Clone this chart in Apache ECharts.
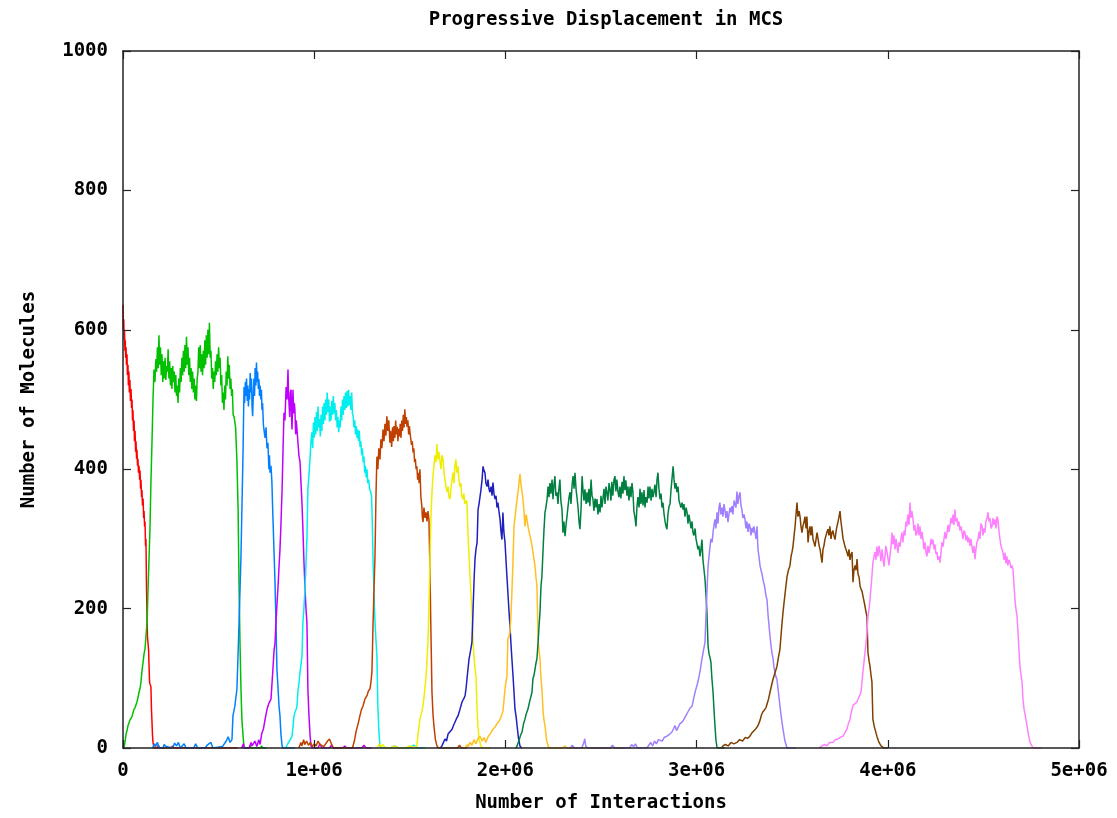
<!DOCTYPE html>
<html>
<head>
<meta charset="utf-8">
<title>Progressive Displacement in MCS</title>
<script src="https://cdn.jsdelivr.net/npm/echarts@6/dist/echarts.min.js"></script>
<style>
  html, body { margin: 0; padding: 0; background: #fff; }
  #chart { width: 1117px; height: 818px; }
</style>
</head>
<body>
<div id="chart"></div>
<script>
// x values are in millions of interactions, y is number of molecules
const xTicks = [0, 1, 2, 3, 4, 5];
const yTicks = [0, 200, 400, 600, 800, 1000];

const run1 = [[0,636],[0.002,600],[0.004,615],[0.006,585],[0.008,598],[0.010,570],[0.012,585],[0.014,560],[0.016,575],[0.018,550],[0.021,565],[0.023,535],[0.026,550],[0.028,520],[0.031,540],[0.033,510],[0.036,528],[0.039,498],[0.042,515],[0.045,488],[0.047,500],[0.050,470],[0.052,485],[0.055,455],[0.058,470],[0.060,440],[0.063,455],[0.066,425],[0.068,440],[0.071,415],[0.073,428],[0.076,405],[0.078,415],[0.081,395],[0.084,405],[0.087,385],[0.089,398],[0.092,372],[0.094,385],[0.097,360],[0.099,370],[0.102,348],[0.105,358],[0.108,330],[0.110,340],[0.113,318],[0.115,325],[0.118,290],[0.120,300],[0.123,230],[0.126,185],[0.128,160],[0.131,150],[0.134,140],[0.136,120],[0.139,95],[0.141,92],[0.144,90],[0.146,88],[0.149,55],[0.152,35],[0.154,20],[0.157,8],[0.162,0],[0.18,0],[0.185,4],[0.19,0],[0.25,0],[0.26,3],[0.265,0],[0.34,0],[0.35,2],[0.36,0],[0.6,0]];

const run2 = [[0.005,0],[0.010,8],[0.016,20],[0.021,25],[0.026,32],[0.031,30],[0.036,40],[0.042,38],[0.047,45],[0.052,46],[0.057,55],[0.063,58],[0.068,62],[0.073,66],[0.078,72],[0.084,80],[0.089,85],[0.094,95],[0.099,110],[0.105,123],[0.110,135],[0.115,142],[0.120,160],[0.126,180],[0.131,228],[0.136,270],[0.141,314],[0.146,380],[0.152,443],[0.157,500],[0.162,543],
  [0.167,525],[0.172,558],[0.176,540],[0.180,575],[0.184,545],[0.188,592],[0.192,550],[0.196,575],[0.200,535],[0.204,565],[0.208,525],[0.212,555],[0.216,530],[0.220,560],[0.224,528],[0.228,548],[0.232,540],[0.236,572],[0.240,530],[0.244,555],[0.248,520],[0.252,545],[0.256,515],[0.260,548],[0.264,525],[0.268,540],[0.272,510],[0.276,535],[0.280,505],[0.284,520],[0.288,495],[0.292,530],[0.296,510],[0.300,545],[0.304,525],[0.308,560],[0.312,535],[0.316,570],[0.320,540],[0.324,578],[0.328,545],[0.332,590],[0.336,550],[0.340,575],[0.344,535],[0.348,560],[0.352,525],[0.356,545],[0.360,515],[0.364,540],[0.368,510],[0.372,530],[0.376,500],[0.380,520],[0.384,498],[0.388,530],[0.392,540],[0.396,575],[0.400,545],[0.404,578],[0.408,540],[0.412,565],[0.416,535],[0.420,570],[0.424,545],[0.428,585],[0.432,550],[0.436,592],[0.440,560],[0.444,600],[0.448,565],[0.452,610],[0.456,560],[0.460,570],[0.464,530],[0.468,545],[0.472,515],[0.476,540],[0.480,525],[0.484,555],[0.488,535],[0.492,565],[0.496,540],[0.500,575],[0.504,545],[0.508,560],[0.512,520],[0.516,535],[0.520,495],[0.524,510],[0.528,485],[0.532,520],[0.536,500],[0.540,540],[0.544,520],[0.548,562],[0.552,530],[0.556,550],[0.560,515],[0.564,530],[0.568,505],[0.572,515],[0.576,478],
  [0.581,475],[0.589,460],[0.596,410],[0.602,342],[0.607,232],[0.612,150],[0.617,85],[0.622,40],[0.628,17],[0.633,0],[0.66,0],[0.665,4],[0.67,0],[0.72,0],[0.725,3],[0.73,0],[0.75,0]];

const run3 = [[0.155,0],[0.165,6],[0.17,2],[0.18,8],[0.19,0],[0.21,0],[0.215,5],[0.225,2],[0.235,0],[0.26,0],[0.27,7],[0.28,3],[0.29,8],[0.30,0],[0.32,6],[0.33,0],[0.37,0],[0.38,6],[0.39,0],[0.43,0],[0.44,4],[0.46,8],[0.47,0],[0.52,2],[0.54,10],[0.55,16],[0.56,8],[0.57,12],[0.575,46],[0.585,60],[0.596,85],[0.607,180],[0.617,275],[0.628,428],
  [0.633,518],[0.636,495],[0.640,525],[0.643,505],[0.646,530],[0.650,498],[0.653,520],[0.656,490],[0.659,515],[0.662,500],[0.665,538],[0.669,510],[0.672,530],[0.675,490],[0.678,476],[0.682,510],[0.685,530],[0.688,505],[0.691,545],[0.695,520],[0.698,553],[0.701,525],[0.704,540],[0.708,515],[0.711,529],[0.714,505],[0.717,520],[0.721,500],[0.724,514],[0.727,485],[0.730,495],[0.734,465],[0.737,457],
  [0.743,445],[0.748,460],[0.753,430],[0.758,438],[0.763,400],[0.766,420],[0.769,395],[0.774,405],[0.779,380],[0.782,350],[0.785,324],[0.790,280],[0.795,238],[0.800,180],[0.805,113],[0.810,90],[0.816,60],[0.821,46],[0.826,20],[0.832,3],[0.837,0],[0.9,0]];

const run4 = [[0.62,0],[0.63,6],[0.635,0],[0.66,0],[0.67,8],[0.675,3],[0.69,10],[0.70,2],[0.71,12],[0.717,5],[0.725,20],[0.735,28],[0.743,41],[0.748,48],[0.753,55],[0.758,60],[0.763,64],[0.768,62],[0.774,70],[0.779,70],[0.785,117],[0.790,140],[0.795,150],[0.800,180],[0.805,205],[0.811,232],[0.816,260],[0.821,285],[0.826,320],[0.832,371],[0.837,428],[0.842,481],[0.847,470],[0.853,518],[0.858,500],[0.863,543],[0.866,505],[0.868,496],[0.872,475],[0.875,510],[0.879,514],[0.882,470],[0.884,457],[0.887,495],[0.889,514],[0.893,480],[0.896,495],[0.899,486],[0.903,450],[0.906,470],[0.910,457],[0.915,438],[0.920,420],[0.926,410],[0.931,380],[0.936,352],[0.941,314],[0.946,270],[0.952,228],[0.957,200],[0.962,180],[0.967,85],[0.972,50],[0.978,20],[0.983,3],[0.99,0],[1.02,0],[1.03,6],[1.04,0],[1.08,0],[1.09,4],[1.10,0],[1.15,0],[1.16,3],[1.17,0],[1.25,0],[1.26,4],[1.27,0],[1.30,0]];

const run5 = [[0.85,0],[0.858,2],[0.866,8],[0.873,10],[0.879,14],[0.884,17],[0.889,30],[0.894,45],[0.900,52],[0.905,55],[0.910,60],[0.915,82],[0.921,95],[0.926,109],[0.931,120],[0.936,132],[0.941,180],[0.946,200],[0.952,228],[0.957,265],[0.962,300],[0.967,371],[0.972,390],[0.978,414],[0.983,440],[0.988,453],
  [0.992,430],[0.996,467],[1.000,445],[1.004,475],[1.008,450],[1.012,482],[1.016,455],[1.020,490],[1.024,460],[1.028,472],[1.032,447],[1.036,478],[1.040,455],[1.044,490],[1.048,465],[1.052,495],[1.056,470],[1.060,500],[1.064,478],[1.068,510],[1.072,482],[1.076,500],[1.080,468],[1.084,490],[1.088,470],[1.092,498],[1.096,478],[1.100,505],[1.104,480],[1.108,495],[1.112,470],[1.116,485],[1.120,460],[1.124,475],[1.128,453],[1.132,470],[1.136,460],[1.140,490],[1.144,470],[1.148,500],[1.152,478],[1.156,505],[1.160,485],[1.164,510],[1.168,488],[1.172,512],[1.176,490],[1.180,514],[1.184,492],[1.188,505],[1.192,485],[1.196,510],[1.200,480],[1.204,476],[1.208,460],[1.212,470],[1.216,450],[1.220,462],[1.224,445],[1.228,457],[1.232,440],[1.236,455],[1.240,432],[1.244,440],[1.248,420],[1.252,430],[1.256,410],[1.260,418],[1.264,395],[1.268,405],[1.272,388],[1.276,400],[1.280,380],[1.285,385],[1.290,371],[1.295,368],[1.300,361],
  [1.304,320],[1.308,266],[1.313,220],[1.318,180],[1.323,155],[1.328,132],[1.333,60],[1.338,25],[1.344,3],[1.35,0],[1.40,0],[1.42,3],[1.44,0],[1.50,0],[1.52,4],[1.54,0],[1.58,0]];

const run6 = [[0.92,0],[0.93,8],[0.935,3],[0.945,12],[0.95,5],[0.96,10],[0.97,4],[0.98,8],[0.99,2],[1.00,6],[1.01,3],[1.02,10],[1.03,5],[1.04,7],[1.05,2],[1.06,4],[1.07,10],[1.08,13],[1.09,6],[1.10,0],[1.20,0],[1.21,10],[1.22,25],[1.23,35],[1.239,46],[1.247,55],[1.255,60],[1.265,70],[1.276,75],[1.284,82],[1.292,85],[1.297,95],[1.302,109],[1.308,180],[1.313,230],[1.318,275],[1.323,361],[1.328,418],
  [1.333,400],[1.338,430],[1.344,414],[1.349,443],[1.354,430],[1.360,457],[1.365,440],[1.370,465],[1.375,448],[1.380,476],[1.385,455],[1.390,470],[1.396,438],[1.400,455],[1.405,432],[1.410,460],[1.414,440],[1.418,462],[1.422,445],[1.426,470],[1.430,450],[1.434,461],[1.438,440],[1.442,458],[1.446,447],[1.450,465],[1.454,445],[1.458,470],[1.462,455],[1.466,478],[1.470,460],[1.474,486],[1.478,465],[1.482,475],[1.485,461],[1.490,470],[1.494,450],[1.498,462],[1.501,453],[1.505,455],[1.509,435],[1.513,440],[1.517,424],[1.521,430],[1.525,410],[1.529,415],[1.533,400],[1.537,404],[1.541,385],[1.545,395],[1.549,380],[1.553,400],[1.558,360],[1.563,347],[1.566,330],[1.569,324],[1.574,345],[1.580,330],[1.585,338],[1.590,325],[1.595,340],[1.600,328],
  [1.605,261],[1.610,175],[1.616,80],[1.621,50],[1.626,32],[1.634,12],[1.642,3],[1.65,0],[1.75,0],[1.76,4],[1.77,0],[1.80,0]];

const run7 = [[1.33,0],[1.34,6],[1.35,2],[1.36,5],[1.37,0],[1.40,0],[1.42,3],[1.44,0],[1.48,0],[1.50,3],[1.52,0],[1.537,3],[1.545,25],[1.553,41],[1.561,50],[1.569,60],[1.577,80],[1.584,99],[1.590,125],[1.595,152],[1.600,200],[1.605,261],[1.610,328],[1.616,367],[1.621,390],[1.626,404],[1.632,420],[1.637,410],[1.642,436],[1.647,414],[1.652,425],[1.658,424],[1.663,400],[1.668,420],[1.674,414],[1.679,395],[1.684,385],[1.689,375],[1.695,367],[1.700,375],[1.705,360],[1.710,357],[1.715,370],[1.721,385],[1.726,395],[1.731,380],[1.736,405],[1.741,414],[1.746,395],[1.752,404],[1.757,385],[1.762,375],[1.767,380],[1.772,362],[1.778,357],[1.783,365],[1.788,350],[1.794,355],[1.799,352],[1.804,309],[1.810,275],[1.815,246],[1.820,220],[1.825,199],[1.831,152],[1.836,130],[1.841,115],[1.846,103],[1.852,52],[1.857,30],[1.862,13],[1.872,3],[1.88,0],[1.92,0]];

const run8 = [[1.66,0],[1.668,3],[1.676,8],[1.684,13],[1.692,10],[1.700,20],[1.710,18],[1.721,27],[1.728,32],[1.736,37],[1.744,42],[1.752,46],[1.762,55],[1.773,66],[1.781,70],[1.789,75],[1.794,85],[1.799,99],[1.805,115],[1.810,128],[1.818,140],[1.825,152],[1.831,199],[1.836,240],[1.841,271],[1.846,285],[1.852,295],[1.857,342],[1.862,350],[1.867,352],[1.872,370],[1.878,385],[1.883,404],[1.888,398],[1.893,395],[1.898,380],[1.904,375],[1.909,385],[1.914,372],[1.919,367],[1.925,375],[1.930,362],[1.935,381],[1.940,365],[1.946,357],[1.951,362],[1.956,345],[1.961,352],[1.966,340],[1.972,328],[1.977,310],[1.982,299],[1.987,338],[1.992,310],[1.998,295],[2.003,270],[2.008,246],[2.013,223],[2.018,200],[2.024,175],[2.029,150],[2.034,128],[2.040,103],[2.045,80],[2.050,56],[2.056,45],[2.061,32],[2.068,15],[2.076,3],[2.085,0]];

const run9 = [[1.79,0],[1.799,5],[1.805,2],[1.815,8],[1.825,4],[1.836,12],[1.846,6],[1.857,14],[1.867,17],[1.878,10],[1.888,15],[1.898,8],[1.904,13],[1.914,18],[1.925,22],[1.935,27],[1.946,30],[1.956,35],[1.966,38],[1.972,41],[1.980,47],[1.987,52],[1.993,70],[1.998,85],[2.003,95],[2.008,103],[2.013,156],[2.018,160],[2.024,166],[2.029,190],[2.034,223],[2.040,271],[2.045,318],[2.050,330],[2.056,345],[2.061,357],[2.066,367],[2.071,380],[2.076,393],[2.081,380],[2.087,367],[2.092,357],[2.097,340],[2.102,318],[2.108,335],[2.113,328],[2.118,318],[2.124,310],[2.129,304],[2.134,298],[2.139,290],[2.144,289],[2.150,270],[2.155,261],[2.160,245],[2.165,232],[2.171,156],[2.176,140],[2.181,128],[2.186,100],[2.191,85],[2.197,52],[2.202,40],[2.207,32],[2.215,12],[2.223,3],[2.23,0],[2.30,0],[2.31,3],[2.32,0],[2.40,0],[2.41,2],[2.42,0],[2.55,0],[2.56,3],[2.57,0],[2.62,0]];

const run10 = [[2.055,0],[2.061,3],[2.070,10],[2.079,18],[2.087,23],[2.095,35],[2.102,41],[2.110,50],[2.118,56],[2.128,68],[2.139,80],[2.144,99],[2.150,105],[2.155,113],[2.160,122],[2.165,128],[2.171,152],[2.176,175],[2.181,195],[2.186,232],[2.191,246],[2.197,285],[2.202,314],[2.207,338],[2.212,345],[2.218,357],[2.223,375],
  [2.228,360],[2.233,380],[2.238,365],[2.244,385],[2.249,357],[2.254,378],[2.259,390],[2.264,362],[2.270,367],[2.275,350],[2.280,372],[2.285,385],[2.290,355],[2.296,342],[2.301,309],[2.306,325],[2.312,304],[2.317,320],[2.322,332],[2.327,345],[2.333,360],[2.338,367],[2.343,350],[2.349,378],[2.354,390],[2.359,372],[2.364,395],[2.370,370],[2.375,358],[2.380,345],[2.385,325],[2.390,314],[2.396,345],[2.401,390],[2.406,370],[2.411,355],[2.416,371],[2.422,350],[2.427,367],[2.432,352],[2.437,372],[2.442,347],[2.448,385],[2.453,362],[2.458,357],[2.463,340],[2.469,358],[2.474,345],[2.479,357],[2.484,335],[2.490,350],[2.495,338],[2.500,362],[2.505,345],[2.510,357],[2.516,372],[2.521,350],[2.526,375],[2.531,367],[2.536,355],[2.542,380],[2.547,371],[2.552,355],[2.557,382],[2.562,362],[2.568,385],[2.573,390],[2.578,368],[2.583,385],[2.589,367],[2.594,360],[2.599,375],[2.604,358],[2.610,382],[2.615,365],[2.620,390],[2.625,370],[2.630,384],[2.636,362],[2.641,375],[2.646,355],[2.652,375],[2.657,360],[2.662,380],[2.667,367],[2.672,340],[2.678,330],[2.683,318],[2.688,345],[2.693,360],[2.699,345],[2.704,372],[2.709,350],[2.714,367],[2.720,348],[2.725,370],[2.730,345],[2.735,360],[2.741,352],[2.746,375],[2.751,358],[2.756,375],[2.762,355],[2.767,372],[2.772,360],[2.777,367],[2.782,378],[2.788,360],[2.793,385],[2.798,395],[2.803,372],[2.809,357],[2.814,365],[2.819,345],[2.824,352],[2.830,335],[2.835,325],[2.840,318],[2.845,314],[2.850,335],[2.856,347],[2.861,350],[2.866,370],[2.871,385],[2.877,404],[2.882,385],[2.887,372],[2.892,380],[2.897,367],[2.903,375],[2.908,355],[2.913,357],[2.918,345],[2.924,352],[2.929,342],[2.934,350],[2.939,332],[2.945,345],[2.950,338],[2.955,322],[2.960,335],[2.966,324],[2.971,315],[2.976,325],[2.981,309],[2.986,305],[2.992,315],[2.997,300],[3.002,299],[3.007,285],[3.012,290],[3.018,275],[3.023,285],[3.028,299],[3.033,271],
  [3.039,255],[3.044,242],[3.049,220],[3.054,195],[3.060,146],[3.065,135],[3.070,130],[3.075,123],[3.080,100],[3.086,80],[3.091,55],[3.096,32],[3.101,12],[3.107,0],[3.15,0]];

const run11 = [[2.34,0],[2.35,4],[2.36,0],[2.40,0],[2.41,8],[2.415,13],[2.42,3],[2.43,0],[2.55,0],[2.56,4],[2.57,0],[2.65,0],[2.66,5],[2.67,2],[2.68,6],[2.69,0],[2.74,0],[2.75,4],[2.76,8],[2.77,3],[2.78,10],[2.79,6],[2.80,12],[2.809,13],[2.82,10],[2.83,15],[2.845,17],[2.86,20],[2.871,23],[2.880,28],[2.887,32],[2.895,25],[2.903,27],[2.913,35],[2.924,37],[2.931,40],[2.939,41],[2.947,48],[2.955,52],[2.965,57],[2.976,60],[2.981,66],[2.987,74],[2.992,80],[3.000,88],[3.007,95],[3.018,110],[3.028,128],[3.036,140],[3.044,152],[3.049,190],[3.054,223],[3.060,261],[3.065,275],[3.070,289],[3.075,300],[3.081,295],[3.086,309],[3.091,320],[3.096,328],[3.101,315],[3.107,338],[3.112,322],[3.117,345],[3.122,352],[3.127,335],[3.133,345],[3.138,332],[3.143,350],[3.148,342],[3.153,330],[3.159,340],[3.164,324],[3.169,335],[3.175,345],[3.180,338],[3.185,347],[3.190,335],[3.196,355],[3.201,357],[3.206,345],[3.211,368],[3.216,350],[3.222,362],[3.227,367],[3.232,348],[3.237,342],[3.242,330],[3.248,335],[3.253,328],[3.258,315],[3.263,325],[3.269,310],[3.274,322],[3.279,318],[3.284,305],[3.290,316],[3.295,309],[3.300,318],[3.305,316],[3.311,300],[3.316,318],[3.321,285],[3.326,275],[3.332,261],[3.337,255],[3.342,250],[3.347,242],[3.353,235],[3.358,228],[3.363,218],[3.368,213],[3.374,190],[3.379,175],[3.384,160],[3.390,145],[3.395,135],[3.400,128],[3.405,115],[3.410,108],[3.415,102],[3.420,99],[3.428,80],[3.436,60],[3.444,42],[3.452,27],[3.462,10],[3.473,0],[3.52,0]];

const run12 = [[3.13,0],[3.138,3],[3.150,5],[3.165,3],[3.180,8],[3.195,6],[3.211,8],[3.225,12],[3.240,10],[3.255,15],[3.268,14],[3.279,17],[3.290,22],[3.300,20],[3.311,28],[3.321,32],[3.332,40],[3.340,48],[3.347,52],[3.356,55],[3.363,58],[3.368,56],[3.376,70],[3.384,80],[3.392,90],[3.400,99],[3.410,108],[3.420,117],[3.428,130],[3.436,142],[3.444,170],[3.452,195],[3.462,220],[3.473,246],[3.480,255],[3.488,261],[3.494,275],[3.499,281],[3.504,289],[3.510,305],[3.515,318],[3.520,335],[3.525,352],[3.530,332],[3.536,340],[3.541,332],[3.546,318],[3.551,309],[3.556,318],[3.562,325],[3.567,332],[3.572,315],[3.577,332],[3.583,295],[3.588,310],[3.593,318],[3.598,305],[3.603,318],[3.609,299],[3.614,295],[3.619,289],[3.625,300],[3.630,309],[3.635,309],[3.641,290],[3.646,285],[3.651,275],[3.656,266],[3.661,285],[3.666,290],[3.671,299],[3.677,305],[3.682,310],[3.687,314],[3.692,305],[3.697,318],[3.703,300],[3.708,309],[3.713,312],[3.718,305],[3.724,299],[3.729,310],[3.734,318],[3.740,325],[3.745,332],[3.750,340],[3.755,325],[3.760,314],[3.766,300],[3.771,295],[3.776,289],[3.781,285],[3.787,280],[3.792,275],[3.797,285],[3.802,270],[3.808,278],[3.813,281],[3.818,238],[3.823,255],[3.829,262],[3.834,255],[3.839,271],[3.844,250],[3.850,245],[3.855,232],[3.860,228],[3.865,225],[3.870,223],[3.876,210],[3.881,203],[3.886,195],[3.891,189],[3.896,138],[3.902,125],[3.907,117],[3.912,105],[3.917,95],[3.922,41],[3.930,30],[3.943,17],[3.954,8],[3.965,3],[3.980,0],[4.0,0]];

const run13 = [[3.64,0],[3.656,3],[3.670,5],[3.682,3],[3.695,8],[3.713,8],[3.725,12],[3.739,13],[3.750,15],[3.766,17],[3.776,22],[3.786,27],[3.794,35],[3.802,41],[3.808,50],[3.813,56],[3.820,62],[3.828,60],[3.836,65],[3.844,70],[3.852,75],[3.860,80],[3.865,95],[3.870,109],[3.876,125],[3.881,138],[3.886,150],[3.891,166],[3.896,189],[3.902,200],[3.907,213],[3.912,230],[3.917,246],[3.922,266],[3.928,275],[3.933,281],[3.938,270],[3.943,289],[3.948,275],[3.954,290],[3.959,281],[3.964,268],[3.970,285],[3.975,271],[3.980,260],[3.985,275],[3.990,290],[3.996,281],[4.001,272],[4.006,262],[4.011,261],[4.017,290],[4.022,309],[4.027,292],[4.032,305],[4.038,285],[4.043,300],[4.048,299],[4.053,280],[4.058,295],[4.064,289],[4.069,300],[4.074,309],[4.079,295],[4.085,312],[4.090,305],[4.095,325],[4.100,318],[4.105,335],[4.111,320],[4.116,352],[4.121,330],[4.126,340],[4.132,328],[4.137,312],[4.142,320],[4.147,305],[4.153,309],[4.158,322],[4.163,305],[4.168,318],[4.174,300],[4.179,310],[4.184,299],[4.189,285],[4.195,295],[4.200,280],[4.205,275],[4.210,290],[4.216,280],[4.221,289],[4.226,300],[4.231,292],[4.236,299],[4.242,285],[4.247,292],[4.252,278],[4.257,281],[4.262,270],[4.268,275],[4.273,266],[4.278,280],[4.283,295],[4.289,289],[4.294,300],[4.299,310],[4.304,300],[4.310,309],[4.315,320],[4.320,310],[4.325,318],[4.330,330],[4.336,322],[4.341,335],[4.346,320],[4.351,342],[4.356,325],[4.362,330],[4.367,318],[4.372,325],[4.377,312],[4.383,318],[4.388,309],[4.393,300],[4.398,312],[4.404,309],[4.409,298],[4.414,305],[4.419,295],[4.424,302],[4.430,290],[4.435,300],[4.440,289],[4.445,280],[4.451,290],[4.456,271],[4.461,285],[4.466,295],[4.472,299],[4.477,310],[4.482,300],[4.487,322],[4.493,318],[4.498,305],[4.503,315],[4.508,309],[4.513,325],[4.519,330],[4.524,338],[4.529,325],[4.534,330],[4.540,315],[4.545,318],[4.550,330],[4.555,320],[4.561,328],[4.566,315],[4.571,332],[4.576,328],[4.582,310],[4.587,299],[4.592,290],[4.597,285],[4.602,281],[4.608,270],[4.613,280],[4.618,265],[4.623,275],[4.628,262],[4.634,270],[4.639,266],[4.644,258],[4.649,262],[4.655,256],[4.660,235],[4.665,213],[4.670,200],[4.676,189],[4.681,166],[4.686,140],[4.691,117],[4.697,105],[4.702,95],[4.707,70],[4.713,55],[4.720,45],[4.728,32],[4.736,18],[4.744,8],[4.759,0],[4.80,0]];

const runs = [run1, run2, run3, run4, run5, run6, run7, run8, run9, run10, run11, run12, run13];

// gnuplot's default line colours, in plotting order
const colors = ['#ff0000', '#00c000', '#0080ff', '#c000ff', '#00eeee', '#c04000', '#eeee00',
                '#2020c0', '#ffc020', '#008040', '#a080ff', '#804000', '#ff80ff'];

const font = 'DejaVu Sans Mono';
const txt = { fontFamily: font, fontWeight: 'bold', fontSize: 19, color: '#000' };

const chart = echarts.init(document.getElementById('chart'));

const edge = { show: true, onZero: false, lineStyle: { color: '#222', width: 1.5 } };
const tickIn = { show: true, inside: true, length: 8, lineStyle: { color: '#222', width: 1.2 } };

// one bottom/left axis with labels, one mirrored top/right axis with ticks only
const makeX = (pos, labelled) => ({
    type: 'value',
    position: pos,
    min: xTicks[0],
    max: xTicks[xTicks.length - 1],
    interval: 1,
    z: 10,
    axisLine: edge,
    axisTick: tickIn,
    splitLine: { show: false },
    axisLabel: labelled ? Object.assign({}, txt, {
        margin: 14,
        formatter: v => v === 0 ? '0' : v + 'e+06'
    }) : { show: false }
});

const makeY = (pos, labelled) => ({
    type: 'value',
    position: pos,
    min: yTicks[0],
    max: yTicks[yTicks.length - 1],
    interval: 200,
    z: 10,
    axisLine: edge,
    axisTick: tickIn,
    splitLine: { show: false },
    axisLabel: labelled ? Object.assign({}, txt, {
        margin: 15,
        formatter: v => String(v)
    }) : { show: false }
});

const xBottom = Object.assign(makeX('bottom', true), {
    name: 'Number of Interactions',
    nameLocation: 'middle',
    nameGap: 46,
    nameTextStyle: txt
});
const yLeft = Object.assign(makeY('left', true), {
    name: 'Number of Molecules',
    nameLocation: 'middle',
    nameGap: 84,
    nameRotate: 90,
    nameTextStyle: txt
});

const option = {
    animation: false,
    backgroundColor: '#fff',
    title: {
        text: 'Progressive Displacement in MCS',
        left: 601,
        textAlign: 'center',
        top: 6,
        textStyle: txt
    },
    grid: { left: 123, right: 38, top: 51, bottom: 69 },
    xAxis: [xBottom, makeX('top', false)],
    yAxis: [yLeft, makeY('right', false)],
    series: runs.map((run, i) => ({
        type: 'line',
        xAxisIndex: 0,
        yAxisIndex: 0,
        data: run,
        showSymbol: false,
        silent: true,
        z: 2 + i * 0.01,
        lineStyle: { color: colors[i], width: 1.5 },
        itemStyle: { color: colors[i] }
    }))
};

chart.setOption(option);
</script>
</body>
</html>
